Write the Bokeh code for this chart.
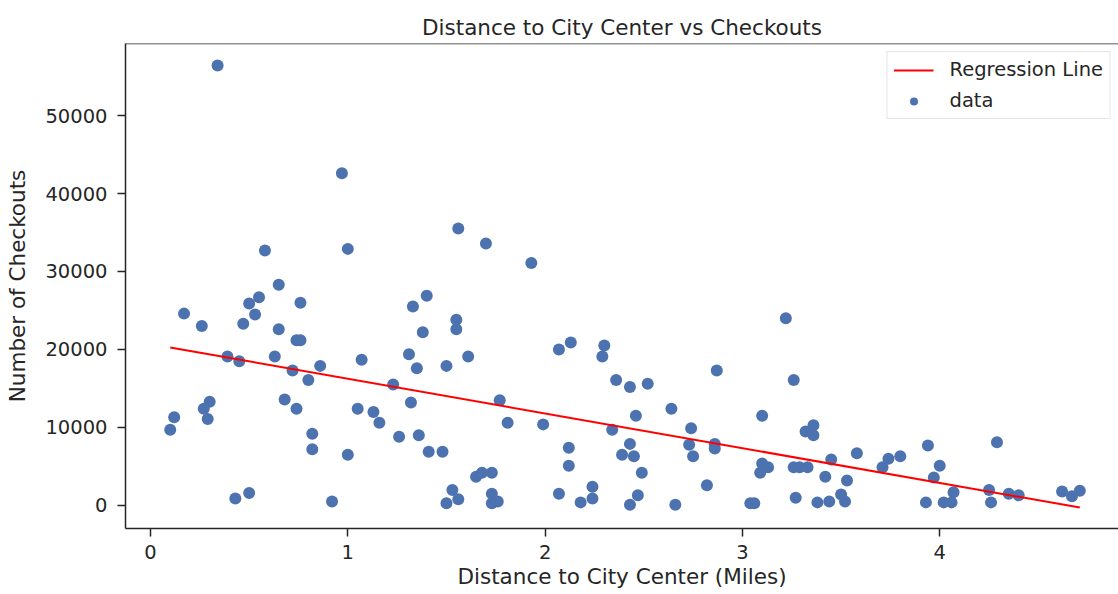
from bokeh.plotting import figure
from bokeh.models import (Legend, LegendItem, FixedTicker, NumeralTickFormatter, Span, Range1d)
from bokeh.embed import file_html
from bokeh.resources import INLINE

# ---- data ----
distance = [
    0.34, 0.10, 0.12, 0.17, 0.26, 0.27, 0.30, 0.29, 0.39, 0.45,
    0.47, 0.50, 0.55, 0.53, 0.58, 0.65, 0.65, 0.63, 0.76, 0.74,
    0.76, 0.72, 0.80, 0.86, 0.68, 0.74, 0.82, 0.82, 1.00, 0.43,
    0.50, 0.92, 0.97, 1.00, 1.07, 1.31, 1.33, 1.40, 1.38, 1.35,
    1.23, 1.32, 1.05, 1.13, 1.16, 1.26, 1.36, 1.41, 1.48, 1.55,
    1.55, 1.61, 1.50, 1.53, 1.50, 1.56, 1.56, 1.70, 1.93, 2.07,
    2.13, 2.30, 2.29, 2.36, 2.43, 2.52, 2.87, 3.22, 3.26, 1.77,
    1.81, 1.99, 2.34, 2.46, 2.64, 2.74, 3.10, 2.73, 2.75, 2.86,
    2.86, 2.43, 2.39, 2.45, 2.12, 2.12, 2.49, 1.65, 1.68, 1.73,
    3.10, 3.13, 3.09, 1.73, 1.73, 1.76, 2.07, 2.18, 2.24, 2.24,
    2.43, 2.47, 2.66, 2.82, 3.04, 3.06, 3.32, 3.36, 3.36, 3.94,
    4.29, 3.58, 3.26, 3.29, 3.33, 3.45, 3.42, 3.53, 3.27, 3.38,
    3.44, 3.50, 3.52, 3.71, 3.74, 3.80, 4.00, 3.97, 4.07, 3.93,
    4.02, 4.06, 4.25, 4.26, 4.35, 4.40, 4.62, 4.67, 4.71,
]
checkouts = [
    56400, 9700, 11300, 24600, 23000, 12400, 13300, 11100, 19100, 18500,
    23300, 25900, 26700, 24500, 32700, 28300, 22600, 19100, 26000, 21200,
    21200, 17300, 16100, 17900, 13600, 12400, 9200, 7200, 6500, 900,
    1600, 500, 42600, 32900, 18700, 19400, 25500, 26900, 22200, 17600,
    15500, 13200, 12400, 12000, 10600, 8800, 9000, 6900, 6900, 23800,
    22600, 19100, 17900, 2000, 300, 800, 35500, 33600, 31100, 20000,
    20900, 20500, 19100, 16100, 15200, 15600, 17300, 24000, 16100, 13500,
    10600, 10400, 9700, 11500, 12400, 9900, 11500, 7800, 6300, 7900,
    7300, 7900, 6500, 6300, 7400, 5100, 4200, 3700, 4200, 4200,
    5400, 4900, 4200, 1500, 300, 500, 1500, 400, 2400, 900,
    100, 1300, 100, 2600, 300, 300, 9500, 10300, 9000, 7700,
    8100, 6700, 4900, 4900, 4900, 5900, 3700, 3200, 1000, 400,
    500, 1400, 500, 4900, 6000, 6300, 5100, 3600, 1700, 400,
    400, 400, 2000, 400, 1500, 1300, 1800, 1200, 1900,
]
reg_intercept = 20700
reg_slope = -4450
x_ticks = [0, 1, 2, 3, 4]
y_ticks = [0, 10000, 20000, 30000, 40000, 50000]

line_x = [min(distance), max(distance)]
line_y = [reg_intercept + reg_slope * v for v in line_x]

FONT = "DejaVu Sans"
TXT = "#262626"

p = figure(width=1118, height=594, output_backend="svg", toolbar_location=None,
           x_range=Range1d(-0.1267, 4.906), y_range=Range1d(-2949, 59231),
           title="Distance to City Center vs Checkouts",
           min_border_left=125, min_border_right=0, min_border_top=43, min_border_bottom=66)

p.title.align = "center"
p.title.text_font = FONT
p.title.text_font_style = "normal"
p.title.text_font_size = "21.5px"
p.title.text_color = TXT
p.title.offset = 3
p.title.standoff = 8

p.grid.visible = False
p.outline_line_color = None
p.background_fill_color = "white"
p.border_fill_color = "white"

pts = p.scatter(distance, checkouts, size=12, color="#4C72B0", line_color=None)
ln = p.line(line_x, line_y, line_color="red", line_width=2)

top = Span(location=59231, dimension="width", line_color=TXT, line_width=1.5)
p.add_layout(top)

for ax in (p.xaxis[0], p.yaxis[0]):
    ax.axis_line_color = TXT
    ax.axis_line_width = 1.5
    ax.major_tick_line_color = TXT
    ax.major_tick_line_width = 1.5
    ax.major_tick_out = 8
    ax.major_tick_in = 0
    ax.minor_tick_line_color = None
    ax.major_label_text_font = FONT
    ax.major_label_text_font_size = "19.5px"
    ax.major_label_text_color = TXT
    ax.axis_label_text_font = FONT
    ax.axis_label_text_font_size = "21.5px"
    ax.axis_label_text_font_style = "normal"
    ax.axis_label_text_color = TXT

p.xaxis[0].ticker = FixedTicker(ticks=x_ticks)
p.yaxis[0].ticker = FixedTicker(ticks=y_ticks)
p.yaxis[0].formatter = NumeralTickFormatter(format="0")
p.xaxis[0].axis_label = "Distance to City Center (Miles)"
p.yaxis[0].axis_label = "Number of Checkouts"
p.xaxis[0].major_label_standoff = 8
p.xaxis[0].axis_label_standoff = 2
p.yaxis[0].major_label_standoff = 10
p.yaxis[0].axis_label_standoff = 12

legend = Legend(items=[LegendItem(label="Regression Line", renderers=[ln]),
                       LegendItem(label="data", renderers=[pts])],
                location="top_right")
legend.label_text_font = FONT
legend.label_text_font_size = "19.5px"
legend.label_text_color = TXT
legend.glyph_width = 40
legend.glyph_height = 20
legend.label_standoff = 16
legend.label_height = 20
legend.spacing = 8
legend.padding = 6
legend.margin = 8
legend.border_line_color = "#cccccc"
legend.border_line_width = 1
legend.background_fill_alpha = 0.8
p.add_layout(legend)

open("out.html", "w").write(file_html(p, INLINE))
